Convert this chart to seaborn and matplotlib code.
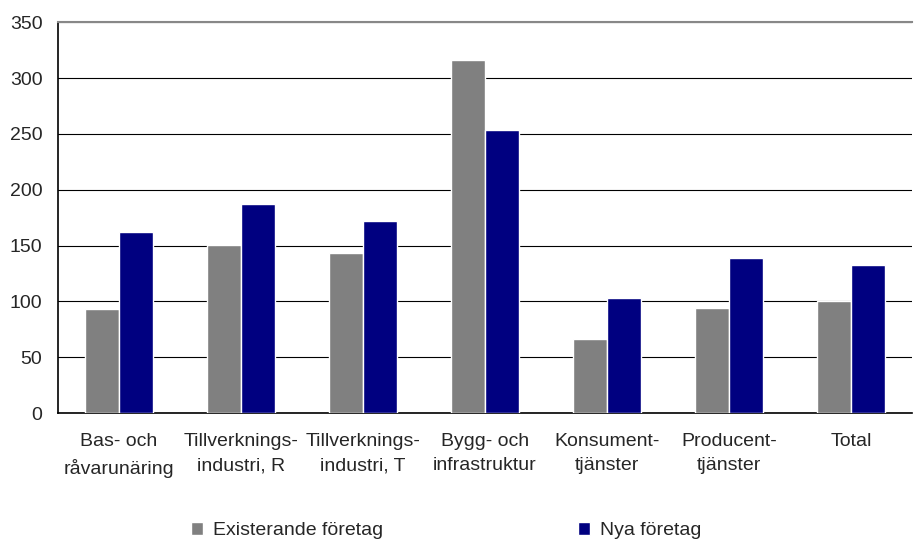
import numpy as np
import pandas as pd
import seaborn as sns
import matplotlib.pyplot as plt
from matplotlib.ticker import FixedLocator

categories = ['Bas- och\nråvarunäring', 'Tillverknings-\nindustri, R', 'Tillverknings-\nindustri, T',
              'Bygg- och\ninfrastruktur', 'Konsument-\ntjänster', 'Producent-\ntjänster', 'Total']
existerande = [93, 151, 143, 316, 66, 94, 100]
nya = [162, 187, 172, 254, 103, 139, 133]
series = ['Existerande företag', 'Nya företag']

df = pd.DataFrame({
    'kategori': categories * 2,
    'serie': [series[0]] * len(categories) + [series[1]] * len(categories),
    'varde': existerande + nya,
})

sns.set_style('white')
plt.rcParams['font.family'] = ['Liberation Sans', 'DejaVu Sans']

fig = plt.figure(figsize=(9.16, 5.45), dpi=100)
ax = fig.add_axes([0.063, 0.242, 0.933, 0.717])

sns.barplot(data=df, x='kategori', y='varde', hue='serie', order=categories,
            hue_order=series, palette=['#808080', '#000080'], width=0.56,
            edgecolor='white', linewidth=1, saturation=1, ax=ax, zorder=3)

ax.set_ylim(0, 350)
ax.set_xlim(-0.5, len(categories) - 0.5)
ax.set_yticks(np.arange(0, 351, 50))
ax.yaxis.grid(True, color='black', linewidth=0.8, zorder=0)
ax.set_axisbelow(True)
ax.set_xlabel('')
ax.set_ylabel('')

# ticks between categories
ax.tick_params(axis='x', which='major', length=0, pad=14, labelsize=14)
ax.xaxis.set_minor_locator(FixedLocator(np.arange(-0.5, len(categories), 1.0)))
ax.tick_params(axis='x', which='minor', length=5, width=1, color='black', direction='out')
ax.tick_params(axis='y', length=6, width=1, color='black', direction='out', labelsize=14, pad=5)
for lbl in ax.get_xticklabels():
    lbl.set_linespacing(1.6)

for s in ['left', 'bottom']:
    ax.spines[s].set_color('black')
    ax.spines[s].set_linewidth(1.2)
ax.spines['right'].set_visible(False)
ax.spines['top'].set_color('#888888')
ax.spines['top'].set_linewidth(1.5)

handles, labels = ax.get_legend_handles_labels()
ax.legend_.remove()
fig.legend(handles, labels, loc='lower center', bbox_to_anchor=(0.487, -0.022), ncol=2,
           frameon=False, fontsize=14, handlelength=0.65, handleheight=0.65,
           handletextpad=0.5, columnspacing=10)

fig.savefig('out.png', dpi=100)
